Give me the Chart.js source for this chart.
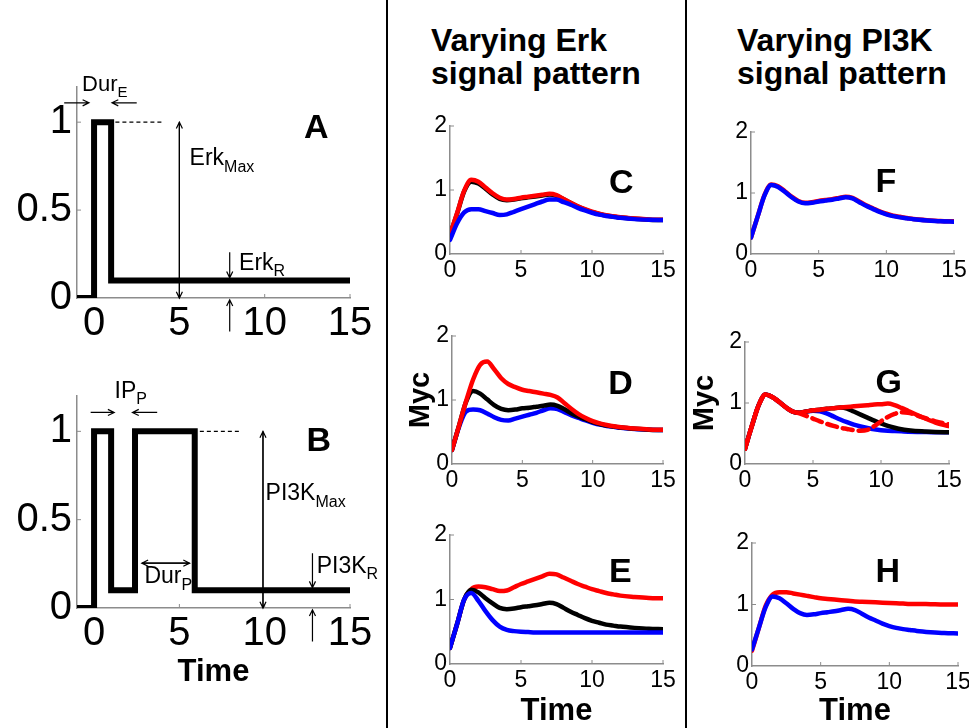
<!DOCTYPE html>
<html>
<head>
<meta charset="utf-8">
<script src="https://cdn.jsdelivr.net/npm/chart.js@4.4.1/dist/chart.umd.min.js"></script>
<style>
  body { margin: 0; background: #fff; width: 969px; height: 728px; position: relative; overflow: hidden;
         font-family: "Liberation Sans", Arial, sans-serif; }
  canvas { position: absolute; }
  .title { position: absolute; font-weight: bold; font-size: 32px; line-height: 33px; color: #000; white-space: nowrap; }
  .divider { position: absolute; top: 0; width: 2px; height: 728px; background: #000; }
</style>
</head>
<body>
<div class="divider" style="left:386px"></div>
<div class="divider" style="left:685px"></div>
<div class="title" style="left:431px;top:24px">Varying Erk<br>signal pattern</div>
<div class="title" style="left:737px;top:24px">Varying PI3K<br>signal pattern</div>
<canvas id="A"></canvas>
<canvas id="B"></canvas>
<canvas id="C"></canvas>
<canvas id="D"></canvas>
<canvas id="E"></canvas>
<canvas id="F"></canvas>
<canvas id="G"></canvas>
<canvas id="H"></canvas>
<script>
// signal inputs (panels A, B)
const tErk = [-1, 0, 0, 1, 1, 15];
const erk = [0, 0, 1, 1, 0.1, 0.1];
const tPi3k = [-1, 0, 0, 1, 1, 2.4, 2.4, 5.9, 5.9, 15];
const pi3k = [0, 0, 1, 1, 0.1, 0.1, 1, 1, 0.1, 0.1];
const signalXTicks = [0, 5, 10, 15];
const signalYTicks = [0, 0.5, 1];

// Myc responses (panels C-H), sampled on a common time grid
const tMyc = [0, 0.5, 1, 1.5, 2, 2.5, 3, 3.5, 4, 4.5, 5, 5.5, 6, 6.5, 7, 7.5, 8, 8.5, 9, 9.5, 10, 10.5, 11, 11.5, 12, 13, 14, 15];
const mycXTicks = [0, 5, 10, 15];
const mycYTicks = [0, 1, 2];

const cRed   = [0.30,0.64,0.99,1.16,1.13,1.04,0.95,0.88,0.85,0.86,0.88,0.895,0.91,0.925,0.94,0.92,0.86,0.80,0.745,0.70,0.66,0.63,0.605,0.59,0.575,0.555,0.54,0.535];
const cBlack = [0.30,0.63,0.98,1.13,1.10,1.02,0.93,0.86,0.84,0.85,0.87,0.885,0.90,0.915,0.93,0.91,0.855,0.795,0.74,0.695,0.655,0.625,0.60,0.585,0.57,0.55,0.535,0.53];
const cBlue  = [0.22,0.48,0.65,0.70,0.70,0.67,0.64,0.61,0.62,0.66,0.70,0.74,0.78,0.82,0.85,0.85,0.81,0.77,0.72,0.68,0.645,0.615,0.595,0.58,0.565,0.545,0.535,0.53];

const dRed   = [0.22,0.60,0.98,1.32,1.55,1.60,1.48,1.34,1.25,1.20,1.16,1.14,1.12,1.10,1.08,1.04,0.95,0.86,0.78,0.72,0.67,0.635,0.61,0.59,0.575,0.555,0.54,0.535];
const dBlack = [0.22,0.60,0.97,1.14,1.10,1.01,0.92,0.86,0.84,0.85,0.87,0.88,0.895,0.91,0.93,0.91,0.855,0.79,0.74,0.695,0.655,0.625,0.60,0.585,0.57,0.55,0.535,0.53];
const dBlue  = [0.22,0.58,0.82,0.85,0.84,0.79,0.73,0.69,0.68,0.71,0.74,0.77,0.80,0.84,0.87,0.86,0.81,0.76,0.72,0.68,0.645,0.615,0.595,0.58,0.565,0.545,0.535,0.53];

const eRed   = [0.25,0.62,1.00,1.16,1.20,1.19,1.16,1.13,1.14,1.19,1.24,1.28,1.32,1.36,1.40,1.39,1.34,1.29,1.24,1.20,1.16,1.13,1.10,1.08,1.06,1.04,1.025,1.02];
const eBlack = [0.25,0.62,1.00,1.15,1.11,1.02,0.94,0.87,0.85,0.86,0.88,0.895,0.91,0.93,0.95,0.93,0.87,0.81,0.76,0.71,0.67,0.64,0.61,0.595,0.58,0.56,0.545,0.54];
const eBlue  = [0.25,0.62,1.00,1.10,0.98,0.82,0.68,0.58,0.53,0.51,0.50,0.495,0.49,0.49,0.49,0.49,0.49,0.49,0.49,0.49,0.49,0.49,0.49,0.49,0.49,0.49,0.49,0.49];

const fRed   = [0.27,0.62,0.97,1.14,1.11,1.03,0.94,0.87,0.84,0.85,0.87,0.885,0.90,0.92,0.94,0.92,0.86,0.80,0.75,0.70,0.66,0.63,0.61,0.59,0.575,0.555,0.54,0.535];
const fBlue  = [0.27,0.62,0.96,1.13,1.10,1.02,0.93,0.86,0.83,0.84,0.86,0.875,0.89,0.91,0.93,0.91,0.85,0.79,0.74,0.69,0.65,0.62,0.60,0.585,0.57,0.55,0.535,0.53];

const gRed     = [0.25,0.62,0.96,1.14,1.10,1.02,0.93,0.86,0.84,0.86,0.88,0.89,0.905,0.915,0.925,0.935,0.945,0.955,0.965,0.975,0.98,0.99,0.965,0.92,0.87,0.77,0.68,0.62];
const gRedDash = [0.25,0.62,0.96,1.14,1.10,1.02,0.93,0.86,0.83,0.79,0.745,0.70,0.66,0.625,0.595,0.575,0.555,0.545,0.56,0.62,0.70,0.77,0.82,0.85,0.84,0.77,0.70,0.65];
const gBlack   = [0.25,0.62,0.96,1.14,1.10,1.02,0.93,0.86,0.84,0.86,0.88,0.89,0.905,0.915,0.925,0.91,0.86,0.81,0.76,0.71,0.665,0.625,0.595,0.57,0.555,0.535,0.525,0.52];
const gBlue    = [0.25,0.62,0.96,1.14,1.10,1.02,0.93,0.86,0.84,0.86,0.875,0.865,0.83,0.78,0.73,0.685,0.645,0.615,0.59,0.57,0.555,0.545,0.54,0.535,0.53,0.525,0.52,0.52];

const hRed   = [0.25,0.62,0.98,1.16,1.20,1.20,1.18,1.16,1.14,1.12,1.10,1.09,1.08,1.07,1.06,1.05,1.045,1.04,1.035,1.03,1.025,1.02,1.015,1.01,1.01,1.005,1.0,1.0];
const hBlue  = [0.27,0.62,0.96,1.13,1.10,1.02,0.93,0.86,0.83,0.84,0.86,0.875,0.89,0.91,0.93,0.91,0.85,0.79,0.74,0.69,0.65,0.62,0.60,0.585,0.57,0.55,0.535,0.53];

Chart.defaults.font.family = "'Liberation Sans', Arial, sans-serif";
Chart.defaults.color = '#000';

const AXIS = '#8c8c8c';
const FONT = "'Liberation Sans', Arial, sans-serif";

const pts = (xs, ys) => xs.map((x, i) => ({ x, y: ys[i] }));

function myc(ys, color, dash) {
  return {
    data: pts(tMyc, ys), borderColor: color, borderWidth: 4.5, borderDash: dash || [],
    cubicInterpolationMode: 'monotone', borderCapStyle: 'round', borderJoinStyle: 'round'
  };
}
function signal(xs, ys) {
  return { data: pts(xs, ys), borderColor: '#000', borderWidth: 6, tension: 0,
           borderJoinStyle: 'miter', borderCapStyle: 'butt' };
}

// small drawing helpers for the annotations
function arrow(ctx, x1, y1, x2, y2) {
  const a = Math.atan2(y2 - y1, x2 - x1), h = 7;
  ctx.beginPath();
  ctx.moveTo(x1, y1); ctx.lineTo(x2, y2);
  ctx.moveTo(x2 - h * Math.cos(a - 0.45), y2 - h * Math.sin(a - 0.45));
  ctx.lineTo(x2, y2);
  ctx.lineTo(x2 - h * Math.cos(a + 0.45), y2 - h * Math.sin(a + 0.45));
  ctx.stroke();
}
function dblArrow(ctx, x1, y1, x2, y2) {
  arrow(ctx, x1, y1, x2, y2); arrow(ctx, x2, y2, x1, y1);
}
function subText(ctx, main, sub, x, y, size) {
  ctx.textAlign = 'left'; ctx.textBaseline = 'alphabetic';
  ctx.font = size + 'px ' + FONT;
  ctx.fillText(main, x, y);
  const w = ctx.measureText(main).width;
  ctx.font = Math.round(size * 0.68) + 'px ' + FONT;
  ctx.fillText(sub, x + w, y + size * 0.28);
}
function letter(ctx, s, x, y) {
  ctx.textAlign = 'left'; ctx.textBaseline = 'alphabetic';
  ctx.font = 'bold 34px ' + FONT;
  ctx.fillText(s, x, y);
}

function panel(id, box, area, cfg) {
  const cv = document.getElementById(id);
  cv.width = box.w; cv.height = box.h;
  cv.style.left = box.x + 'px'; cv.style.top = box.y + 'px';
  const W = area.l - box.x, T = area.t - box.y, R = box.x + box.w - area.r, H = box.y + box.h - area.b;

  const deco = {
    id: 'deco',
    afterDraw(c) {
      const ctx = c.ctx, xs = c.scales.x, ys = c.scales.y;
      const px = v => xs.getPixelForValue(v), py = v => ys.getPixelForValue(v);
      ctx.save();
      // small inward tick marks
      ctx.strokeStyle = AXIS; ctx.lineWidth = 1;
      cfg.xTicks.slice(1).forEach(v => {
        ctx.beginPath(); ctx.moveTo(px(v), c.chartArea.bottom); ctx.lineTo(px(v), c.chartArea.bottom - 4); ctx.stroke();
      });
      cfg.yTicks.slice(1).forEach(v => {
        ctx.beginPath(); ctx.moveTo(c.chartArea.left, py(v)); ctx.lineTo(c.chartArea.left + 4, py(v)); ctx.stroke();
      });
      ctx.strokeStyle = '#000'; ctx.fillStyle = '#000'; ctx.lineWidth = 1.2;
      cfg.draw(ctx, px, py);
      ctx.restore();
    }
  };

  const xTitle = cfg.xTitle
    ? { display: true, text: cfg.xTitle.text, color: '#000',
        font: { size: 31, weight: 'bold', lineHeight: 1 }, padding: { top: 0, bottom: cfg.xTitle.pad } }
    : { display: false };
  const yTitle = cfg.yTitle
    ? { display: true, text: cfg.yTitle.text, color: '#000',
        font: { size: 29, weight: 'bold', lineHeight: 1 }, padding: { top: cfg.yTitle.pad, bottom: 0 } }
    : { display: false };

  return new Chart(cv, {
    type: 'line',
    data: { datasets: cfg.datasets },
    options: {
      responsive: false, animation: false, events: [],
      layout: { padding: { left: 0, top: T, right: R, bottom: 0 } },
      plugins: { legend: { display: false }, tooltip: { enabled: false } },
      elements: { point: { radius: 0 } },
      scales: {
        x: {
          type: 'linear', min: cfg.xMin, max: 15,
          afterBuildTicks: s => { s.ticks = cfg.xTicks.map(v => ({ value: v })); },
          afterFit: s => { s.height = H; s.paddingLeft = 0; s.paddingRight = 0; },
          grid: { display: false, drawTicks: false },
          border: { color: AXIS, width: 1.5 },
          ticks: { font: { size: cfg.tickSize }, color: '#000', padding: cfg.xPad,
                   maxRotation: 0, autoSkip: false, callback: v => String(v) },
          title: xTitle
        },
        y: {
          type: 'linear', min: 0, max: cfg.yMax,
          afterBuildTicks: s => { s.ticks = cfg.yTicks.map(v => ({ value: v })); },
          afterFit: s => { s.width = W; s.paddingTop = 0; s.paddingBottom = 0; },
          grid: { display: false, drawTicks: false },
          border: { color: AXIS, width: 1.5 },
          ticks: { font: { size: cfg.tickSize }, color: '#000', padding: cfg.yPad,
                   autoSkip: false, callback: v => String(v) },
          title: yTitle
        }
      }
    },
    plugins: [deco]
  });
}

const sigBase = { xMin: -1, yMax: 1.2, xTicks: signalXTicks, yTicks: signalYTicks, tickSize: 40, xPad: 2, yPad: 5 };
const mycBase = { xMin: 0, yMax: 2, xTicks: mycXTicks, yTicks: mycYTicks, tickSize: 23, xPad: 3, yPad: 3 };

panel('A', { x: 0, y: 60, w: 385, h: 300 }, { l: 77, t: 87, r: 350, b: 298 }, {
  ...sigBase,
  datasets: [signal(tErk, erk)],
  draw(ctx, px, py) {
    arrow(ctx, px(-1.75), py(1.11), px(-0.3), py(1.11));
    arrow(ctx, px(2.5), py(1.11), px(1.05), py(1.11));
    subText(ctx, 'Dur', 'E', px(-0.7), py(1.18), 22);
    ctx.setLineDash([4, 3]);
    ctx.beginPath(); ctx.moveTo(px(1.25), py(1)); ctx.lineTo(px(4), py(1)); ctx.stroke();
    ctx.setLineDash([]);
    dblArrow(ctx, px(5), py(1), px(5), py(0));
    subText(ctx, 'Erk', 'Max', px(5.6), py(0.755), 23);
    arrow(ctx, px(7.95), py(0.26), px(7.95), py(0.115));
    arrow(ctx, px(7.95), py(-0.19), px(7.95), py(-0.01));
    subText(ctx, 'Erk', 'R', px(8.5), py(0.16), 23);
    letter(ctx, 'A', px(12.3), py(0.91));
  }
});

panel('B', { x: 0, y: 372, w: 385, h: 323 }, { l: 77, t: 396, r: 350, b: 608 }, {
  ...sigBase,
  datasets: [signal(tPi3k, pi3k)],
  xTitle: { text: 'Time', pad: 7 },
  draw(ctx, px, py) {
    arrow(ctx, px(-0.2), py(1.107), px(1.18), py(1.107));
    arrow(ctx, px(3.7), py(1.107), px(2.25), py(1.107));
    subText(ctx, 'IP', 'P', px(1.2), py(1.19), 23);
    ctx.setLineDash([4, 3]);
    ctx.beginPath(); ctx.moveTo(px(6.2), py(1)); ctx.lineTo(px(8.6), py(1)); ctx.stroke();
    ctx.setLineDash([]);
    dblArrow(ctx, px(9.9), py(1), px(9.9), py(0));
    subText(ctx, 'PI3K', 'Max', px(10.05), py(0.61), 23);
    dblArrow(ctx, px(2.8), py(0.254), px(5.6), py(0.254));
    subText(ctx, 'Dur', 'P', px(2.95), py(0.14), 23);
    arrow(ctx, px(12.8), py(0.31), px(12.8), py(0.115));
    arrow(ctx, px(12.8), py(-0.19), px(12.8), py(-0.01));
    subText(ctx, 'PI3K', 'R', px(13.05), py(0.2), 23);
    letter(ctx, 'B', px(12.45), py(0.89));
  }
});

panel('C', { x: 392, y: 108, w: 292, h: 180 }, { l: 450, t: 126, r: 663, b: 254 }, {
  ...mycBase,
  datasets: [myc(cBlue, '#0000ff'), myc(cRed, '#ff0000'), myc(cBlack, '#000000')],
  draw(ctx, px, py) { letter(ctx, 'C', px(11.2), py(0.95)); }
});

panel('D', { x: 392, y: 300, w: 292, h: 195 }, { l: 452, t: 336, r: 663, b: 464 }, {
  ...mycBase,
  datasets: [myc(dRed, '#ff0000'), myc(dBlack, '#000000'), myc(dBlue, '#0000ff')],
  yTitle: { text: 'Myc', pad: 14 },
  draw(ctx, px, py) { letter(ctx, 'D', px(11.1), py(1.09)); }
});

panel('E', { x: 392, y: 505, w: 292, h: 223 }, { l: 450, t: 535, r: 663, b: 664 }, {
  ...mycBase,
  datasets: [myc(eBlue, '#0000ff'), myc(eBlack, '#000000'), myc(eRed, '#ff0000')],
  xTitle: { text: 'Time', pad: 1.5 },
  draw(ctx, px, py) { letter(ctx, 'E', px(11.2), py(1.27)); }
});

panel('F', { x: 690, y: 108, w: 279, h: 180 }, { l: 751, t: 132, r: 954, b: 254 }, {
  ...mycBase,
  datasets: [myc(fBlue, '#0000ff'), myc(fRed, '#ff0000')],
  draw(ctx, px, py) { letter(ctx, 'F', px(9.2), py(1.02)); }
});

panel('G', { x: 690, y: 300, w: 279, h: 195 }, { l: 745, t: 342, r: 949, b: 464 }, {
  ...mycBase,
  datasets: [myc(gRed, '#ff0000'), myc(gRedDash, '#ff0000', [10, 6]), myc(gBlack, '#000000'), myc(gBlue, '#0000ff')],
  yTitle: { text: 'Myc', pad: 0.5 },
  draw(ctx, px, py) { letter(ctx, 'G', px(9.6), py(1.16)); }
});

panel('H', { x: 690, y: 505, w: 279, h: 223 }, { l: 752, t: 543, r: 958, b: 666 }, {
  ...mycBase,
  datasets: [myc(hBlue, '#0000ff'), myc(hRed, '#ff0000')],
  xTitle: { text: 'Time', pad: 1.5 },
  draw(ctx, px, py) { letter(ctx, 'H', px(9.0), py(1.37)); }
});
</script>
</body>
</html>
